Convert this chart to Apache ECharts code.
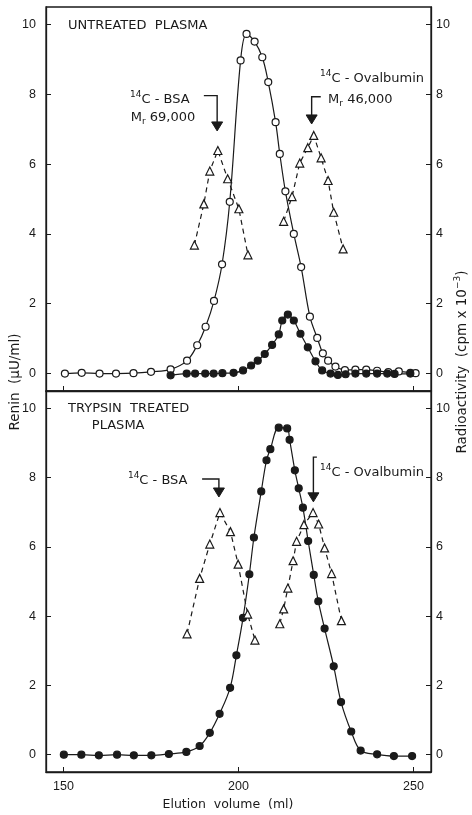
<!DOCTYPE html>
<html>
<head>
<meta charset="utf-8">
<script src="https://cdn.jsdelivr.net/npm/echarts@6/dist/echarts.min.js"></script>
<style>
html,body{margin:0;padding:0;background:#fff;}
#c{width:472px;height:815px;}
</style>
</head>
<body>
<div id="c"></div>
<script>
// ---- data (elution volume ml, value) ----
const xTicks = [150, 200, 250];
const yTicks = [0, 2, 4, 6, 8, 10];

// Untreated plasma
const untreatedReninOpen = [[150.4,0],[155.2,0.02],[160.3,0],[165,0],[170,0.01],[175,0.05],[180.6,0.12],[185.3,0.37],[188.2,0.81],[190.6,1.34],[193,2.08],[195.3,3.13],[197.5,4.92],[200.6,8.97],[202.3,9.73],[204.6,9.51],[206.8,9.06],[208.5,8.35],[210.6,7.2],[211.8,6.29],[213.4,5.22],[215.8,4.0],[217.9,3.05],[220.4,1.63],[222.5,1.02],[224.1,0.58],[225.6,0.37],[227.7,0.2],[230.4,0.1],[233.4,0.11],[236.5,0.11],[239.6,0.08],[242.8,0.04],[245.8,0.06],[249.1,0.02],[250.6,0.01]];
const untreatedReninFilled = [[180.6,-0.05],[185.2,0],[187.6,0],[190.5,0],[192.9,0],[195.4,0.01],[198.6,0.02],[201.3,0.09],[203.6,0.23],[205.5,0.37],[207.5,0.56],[209.6,0.82],[211.5,1.12],[212.5,1.52],[214.1,1.69],[215.8,1.52],[217.7,1.14],[219.8,0.75],[222,0.35],[223.9,0.09],[226.3,0],[228.4,-0.04],[230.6,-0.02],[233.4,0],[236.5,0],[239.6,0],[242.5,0],[244.6,-0.01],[249.1,0]];
const untreatedBSA = [[187.4,3.68],[190.1,4.86],[191.8,5.8],[194.1,6.39],[196.9,5.58],[200.1,4.72],[202.7,3.4]];
const untreatedOva = [[212.9,4.36],[215.3,5.07],[217.5,6.03],[219.8,6.47],[221.5,6.82],[223.6,6.18],[225.6,5.53],[227.2,4.62],[229.9,3.57]];

// Trypsin treated plasma
const trypsinRenin = [[150.1,0],[155.1,0],[160.1,-0.02],[165.3,0],[170.1,-0.02],[175.1,-0.02],[180.1,0.02],[185.1,0.08],[188.9,0.25],[191.8,0.63],[194.6,1.18],[197.6,1.93],[199.4,2.87],[201.3,3.95],[203.1,5.21],[204.4,6.27],[206.5,7.6],[208,8.5],[209.1,8.82],[211.5,9.44],[213.9,9.42],[214.6,9.09],[216.1,8.21],[217.2,7.69],[218.4,7.13],[219.9,6.17],[221.5,5.19],[222.8,4.43],[224.6,3.64],[227.2,2.55],[229.3,1.52],[232.2,0.67],[234.9,0.12],[239.6,0.01],[244.4,-0.04],[249.6,-0.04]];
const trypsinBSA = [[185.3,3.49],[188.9,5.09],[191.8,6.08],[194.7,6.99],[197.7,6.44],[199.9,5.5],[202.6,4.06],[204.7,3.31]];
const trypsinOva = [[211.8,3.78],[212.9,4.21],[214.1,4.81],[215.6,5.6],[216.6,6.16],[218.7,6.64],[221.3,6.99],[222.9,6.66],[224.6,5.97],[226.6,5.23],[229.4,3.87]];

// ---- styling ----
const INK = '#1a1a1a';
const FONT = 'DejaVu Sans';
const chart = echarts.init(document.getElementById('c'), null, {renderer:'canvas'});

function xAx(g, showLabel){
  return {type:'value', gridIndex:g, min:145, max:255,
    axisLine:{show:true, onZero:false, lineStyle:{color:INK, width:1.3}},
    axisTick:{show:true, inside:true, length:5, customValues:xTicks, lineStyle:{color:INK, width:1}},
    axisLabel:{show:showLabel, customValues:xTicks, color:INK, fontFamily:'Liberation Sans', fontSize:12.5, margin:8},
    splitLine:{show:false}};
}
function yAx(g, pos){
  return {type:'value', gridIndex:g, position:pos, min:-0.5, max:10.5,
    axisLine:{show:true, onZero:false, lineStyle:{color:INK, width:1.3}},
    axisTick:{show:true, inside:true, length:5, customValues:yTicks, lineStyle:{color:INK, width:1}},
    axisLabel:{show:true, customValues:yTicks, color:INK, fontFamily:'Liberation Sans', fontSize:12.5, margin: pos==='left'?10:5},
    splitLine:{show:false}};
}
function lineSeries(data, xi, yi, filled){
  return {type:'line', xAxisIndex:xi, yAxisIndex:yi, data:data, smooth:0.35,
    symbol:'circle', symbolSize:7, showSymbol:true, z:3,
    lineStyle:{color:INK, width:1.2},
    itemStyle:{color: filled?INK:'#fff', borderColor:INK, borderWidth:1.2},
    emphasis:{disabled:true}, animation:false};
}
function triSeries(data, xi, yi){
  return {type:'line', xAxisIndex:xi, yAxisIndex:yi, data:data, smooth:false,
    symbol:'triangle', symbolSize:8, showSymbol:true, z:4,
    lineStyle:{color:INK, width:1.2, type:[5,4]},
    itemStyle:{color:'#fff', borderColor:INK, borderWidth:1.2},
    emphasis:{disabled:true}, animation:false};
}

chart.setOption({
  animation:false,
  backgroundColor:'#fff',
  grid:[
    {left:46, right:41, top:7, height:384, show:true, borderColor:INK, borderWidth:1.3, backgroundColor:'transparent'},
    {left:46, right:41, top:391, height:381, show:true, borderColor:INK, borderWidth:1.3, backgroundColor:'transparent'}
  ],
  xAxis:[xAx(0,false), xAx(1,true)],
  yAxis:[yAx(0,'left'), yAx(0,'right'), yAx(1,'left'), yAx(1,'right')],
  series:[
    lineSeries(untreatedReninOpen,0,0,false),
    lineSeries(untreatedReninFilled,0,0,true),
    triSeries(untreatedBSA,0,1),
    triSeries(untreatedOva,0,1),
    lineSeries(trypsinRenin,1,2,true),
    triSeries(trypsinBSA,1,3),
    triSeries(trypsinOva,1,3)
  ]
});

// ---- annotations (positions in data coordinates) ----
const P = (g, x, y) => chart.convertToPixel({gridIndex:g}, [x, y]);
const arrows = [
  {g:0, x0:190.1, x1:193.9, y0:7.96, yTip:6.95},
  {g:0, x0:223.5, x1:220.9, y0:7.93, yTip:7.15},
  {g:1, x0:189.6, x1:194.4, y0:7.96, yTip:7.44},
  {g:1, x0:222.4, x1:221.4, y0:8.59, yTip:7.30}
];
const rich = {
  t:{fontFamily:FONT, fontSize:13, fill:INK, color:INK, verticalAlign:'bottom', padding:[0,0,2,0]},
  s:{fontFamily:FONT, fontSize:9, fill:INK, color:INK, verticalAlign:'bottom', padding:[0,0,9,0]},
  b:{fontFamily:FONT, fontSize:9, fill:INK, color:INK, verticalAlign:'bottom', padding:[0,0,0,0]}
};
const labels = [
  {g:0, x:151.3, y:9.98, text:'UNTREATED  PLASMA'},
  {g:0, x:169.0, y:7.86, text:'{s|14}{t|C - BSA}', rich:true},
  {g:0, x:169.2, y:7.31, text:'{t|M}{b|r}{t| 69,000}', rich:true},
  {g:0, x:223.3, y:8.46, text:'{s|14}{t|C - Ovalbumin}', rich:true},
  {g:0, x:225.6, y:7.83, text:'{t|M}{b|r}{t| 46,000}', rich:true},
  {g:1, x:151.3, y:9.98, text:'TRYPSIN  TREATED'},
  {g:1, x:158.1, y:9.49, text:'PLASMA'},
  {g:1, x:168.4, y:7.93, text:'{s|14}{t|C - BSA}', rich:true},
  {g:1, x:223.3, y:8.17, text:'{s|14}{t|C - Ovalbumin}', rich:true}
];

const graphics = [];
arrows.forEach(a => {
  const p0 = P(a.g, a.x0, a.y0), p1 = P(a.g, a.x1, a.y0), tip = P(a.g, a.x1, a.yTip);
  graphics.push({type:'polyline', shape:{points:[p0, p1, [tip[0], tip[1]-8]]}, style:{stroke:INK, lineWidth:1.4, fill:null}, z:10});
  graphics.push({type:'polygon', shape:{points:[[tip[0]-5.5, tip[1]-9],[tip[0]+5.5, tip[1]-9],[tip[0], tip[1]]]}, style:{fill:INK, stroke:INK, lineWidth:1}, z:10});
});
labels.forEach(l => {
  const p = P(l.g, l.x, l.y);
  const st = {text:l.text, x:p[0], y:p[1], fill:INK, font:'13px "'+FONT+'"', textVerticalAlign:'middle', verticalAlign:'middle', align:'left'};
  if (l.rich) st.rich = rich;
  graphics.push({type:'text', style:st, z:10});
});
// axis titles spanning both panels
const midL = (P(0,150,-0.5)[1] + P(1,150,10.5)[1]) / 2;
graphics.push({type:'text', x:15, y:382, rotation:Math.PI/2,
  style:{text:'Renin  (\u03bcU/ml)', fill:INK, font:'13.5px "'+FONT+'"', align:'center', verticalAlign:'middle'}, z:10});
graphics.push({type:'text', x:462, y:362, rotation:Math.PI/2,
  style:{text:'Radioactivity  (cpm x 10{s|\u22123})', fill:INK, font:'13.5px "'+FONT+'"', align:'center', verticalAlign:'middle',
    rich:{s:{fontFamily:FONT, fontSize:9, fill:INK, color:INK, verticalAlign:'bottom', padding:[0,0,8,0]}}}, z:10});
const xc = P(1, 200, 0)[0];
graphics.push({type:'text', x:228, y:805,
  style:{text:'Elution  volume  (ml)', fill:INK, font:'12.5px "'+FONT+'"', align:'center', verticalAlign:'middle'}, z:10});

chart.setOption({graphic:{elements:graphics}});
</script>
</body>
</html>
